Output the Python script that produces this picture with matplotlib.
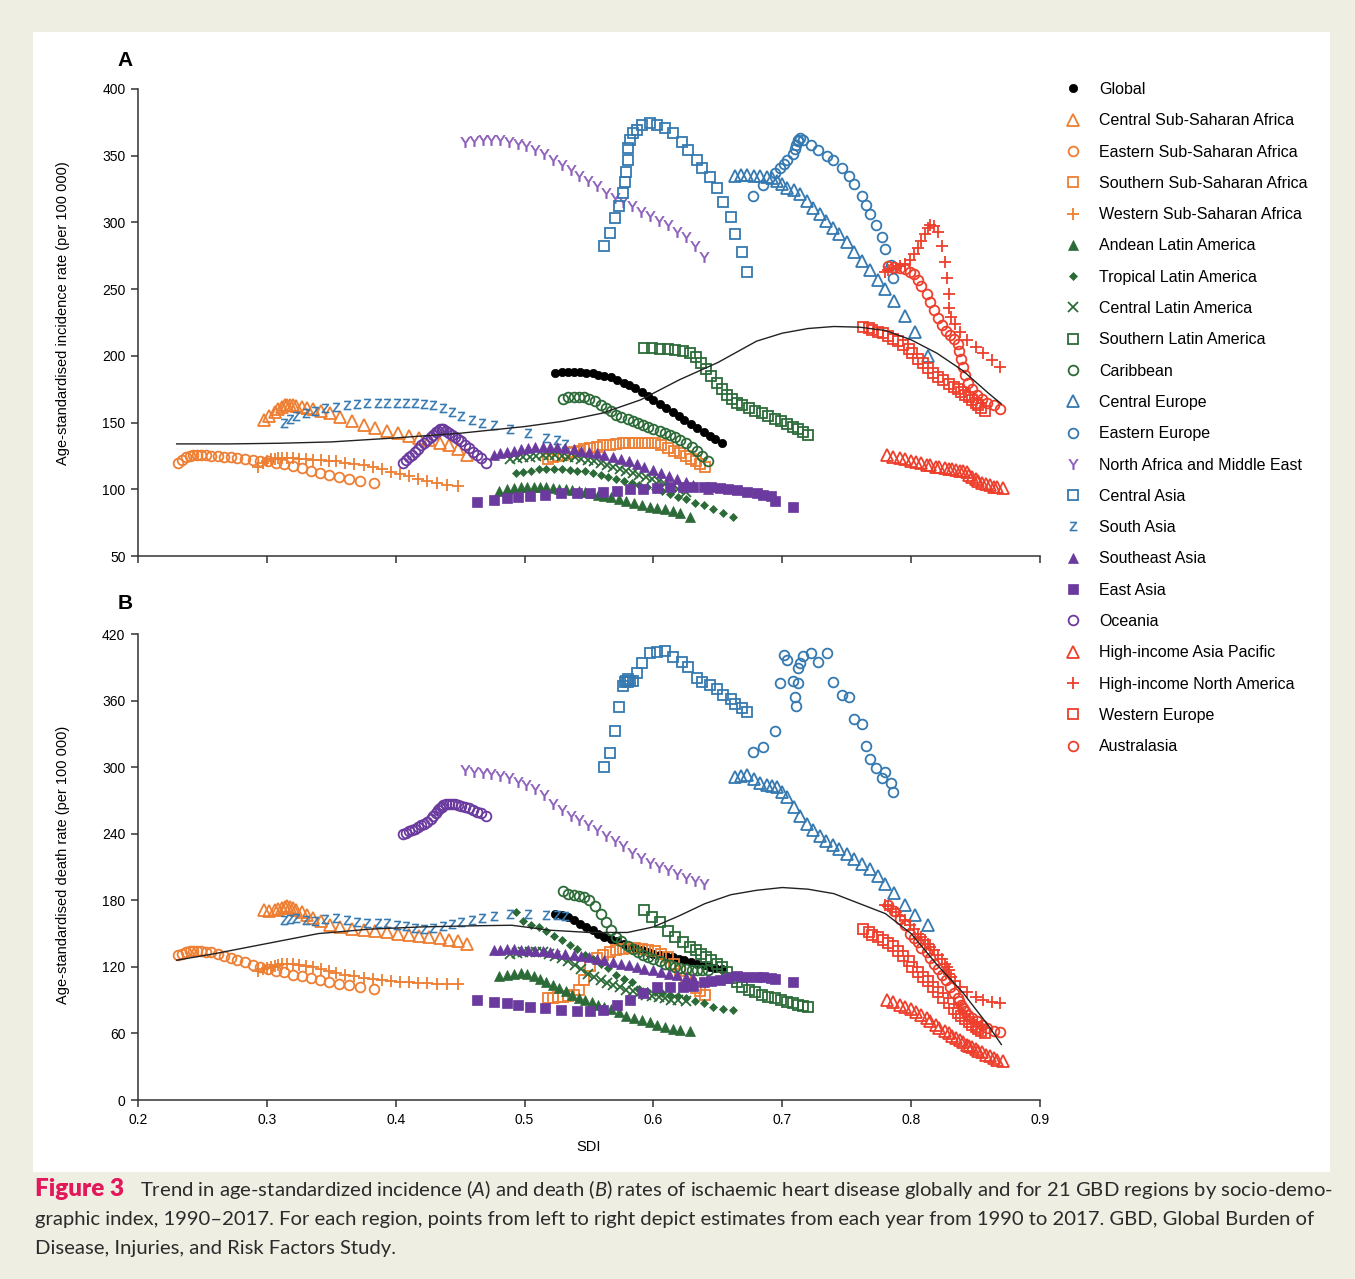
import matplotlib
matplotlib.use("Agg")
import matplotlib.pyplot as plt
from matplotlib.patches import Rectangle

plt.rcParams['font.family'] = ['Liberation Sans', 'DejaVu Sans']
plt.rcParams['mathtext.fontset'] = 'custom'
plt.rcParams['mathtext.it'] = 'Lato:italic'
plt.rcParams['mathtext.rm'] = 'Lato'
plt.rcParams['mathtext.sf'] = 'Liberation Sans'

# ---- data: SDI per year (1990-2017), incidence (A) and death (B) rates ----
regions = ["Global", "Central Sub-Saharan Africa", "Eastern Sub-Saharan Africa",
           "Southern Sub-Saharan Africa", "Western Sub-Saharan Africa",
           "Andean Latin America", "Tropical Latin America", "Central Latin America",
           "Southern Latin America", "Caribbean", "Central Europe", "Eastern Europe",
           "North Africa and Middle East", "Central Asia", "South Asia", "Southeast Asia",
           "East Asia", "Oceania", "High-income Asia Pacific", "High-income North America",
           "Western Europe", "Australasia"]

sdi_global = [0.524, 0.529, 0.534, 0.538, 0.543, 0.548, 0.553, 0.557, 0.562, 0.567, 0.572, 0.577, 0.581, 0.586,
              0.591, 0.596, 0.600, 0.605, 0.610, 0.615, 0.620, 0.624, 0.629, 0.634, 0.639, 0.644, 0.648, 0.653]
inc_global = [187, 188, 188, 188, 188, 187.5, 187, 186, 185, 184, 182, 180, 178, 176,
              173, 170, 167, 164, 161, 158, 155, 152, 149, 146, 143, 140, 138, 135]
dth_global = [168, 167, 165, 162, 159, 156, 153, 150, 147, 145, 143, 141, 139, 137,
              135, 133, 132, 131, 130, 129, 127, 126, 124, 123, 122, 120, 119, 118]

sdi_cssa = [0.298, 0.302, 0.306, 0.309, 0.312, 0.314, 0.316, 0.318, 0.320, 0.323, 0.327, 0.331, 0.336, 0.342,
            0.349, 0.357, 0.366, 0.375, 0.384, 0.393, 0.402, 0.410, 0.418, 0.426, 0.434, 0.441, 0.448, 0.455]
inc_cssa = [152, 155, 158, 160, 162, 163, 163.5, 163.5, 163, 162.5, 162, 161, 160, 158.5,
            157, 154, 151, 148.5, 146, 144, 142, 140, 138.5, 137, 135, 133, 130, 126]
dth_cssa = [171, 170, 171, 172, 173, 174, 175, 174, 173, 171, 169, 167, 164, 161,
            158, 156, 154, 153, 152, 151, 150, 149, 148, 147, 146, 144, 143, 141]

sdi_essa = [0.231, 0.234, 0.237, 0.240, 0.243, 0.246, 0.249, 0.253, 0.257, 0.262, 0.267, 0.272, 0.277, 0.283,
            0.289, 0.295, 0.301, 0.307, 0.313, 0.320, 0.327, 0.334, 0.341, 0.348, 0.356, 0.364, 0.372, 0.383]
inc_essa = [120, 122, 124, 125, 126, 126, 126, 125.5, 125, 125, 124.5, 124, 123.5, 123,
            122, 121.5, 121, 120, 119, 117.5, 116, 114, 112, 110.5, 109, 107.5, 106, 104.5]
dth_essa = [131, 132, 133, 134, 134.5, 134.5, 134, 133.5, 133, 132, 130, 128, 126, 124,
            122, 120, 118, 116.5, 115, 113, 111.5, 110, 108, 106.5, 105, 103.5, 102, 100]

sdi_sssa = [0.518, 0.522, 0.526, 0.530, 0.534, 0.538, 0.542, 0.546, 0.551, 0.556, 0.561, 0.566, 0.571, 0.576,
            0.581, 0.586, 0.591, 0.596, 0.601, 0.606, 0.611, 0.616, 0.621, 0.625, 0.629, 0.633, 0.636, 0.640]
inc_sssa = [123, 124, 125, 126, 127, 128, 129, 130, 131, 132, 133, 133.5, 134, 134.5,
            135, 135, 135, 135, 134.5, 133, 131, 129, 127, 125, 123, 121, 119, 117]
dth_sssa = [92, 92, 93, 93, 94, 95, 99, 108, 121, 128, 131, 133, 135, 136,
            137, 137, 136, 135, 134, 132, 129, 123, 116, 110, 105, 101, 98, 95]

sdi_wssa = [0.293, 0.297, 0.300, 0.303, 0.306, 0.309, 0.312, 0.316, 0.320, 0.325, 0.330, 0.336, 0.342, 0.348,
            0.354, 0.361, 0.368, 0.375, 0.382, 0.389, 0.396, 0.403, 0.410, 0.417, 0.424, 0.432, 0.440, 0.448]
inc_wssa = [117, 120, 121.5, 122.5, 123, 123.5, 123.5, 123.5, 123.5, 123, 122.5, 122, 122, 121.5,
            121, 120, 119, 118, 116.5, 115, 113, 111.5, 110, 108, 106.5, 105, 103.5, 102.5]
dth_wssa = [116, 118, 119, 120, 121, 122, 122.5, 123, 123, 122, 121, 120, 118, 116,
            114.5, 113, 111.5, 110, 109, 108, 107, 106.5, 106, 105.5, 105.5, 105, 105, 105]

sdi_andean = [0.480, 0.486, 0.492, 0.497, 0.502, 0.507, 0.512, 0.517, 0.522, 0.527, 0.532, 0.537, 0.542, 0.547,
              0.552, 0.557, 0.562, 0.567, 0.573, 0.579, 0.585, 0.591, 0.597, 0.603, 0.609, 0.615, 0.621, 0.628]
inc_andean = [99, 100, 101, 101.5, 102, 102, 102, 101.5, 101, 100.5, 100, 99.5, 99, 98,
              97, 96, 95, 94, 92.5, 91, 89.5, 88, 87, 86, 85, 83.5, 82, 79.5]
dth_andean = [112, 113, 114, 114.5, 114, 112, 109, 106, 104, 101, 98, 95, 92, 90,
              88, 86, 84, 82, 79, 76, 74, 72, 70, 68, 66, 64, 63, 62]

sdi_tropical = [0.493, 0.499, 0.505, 0.511, 0.517, 0.523, 0.529, 0.535, 0.541, 0.547, 0.553, 0.559, 0.565, 0.571,
                0.577, 0.583, 0.589, 0.595, 0.601, 0.607, 0.613, 0.619, 0.625, 0.632, 0.639, 0.646, 0.654, 0.662]
inc_tropical = [112, 113, 114, 115, 115.5, 115.5, 115, 114.5, 114, 113.5, 112.5, 111, 109.5, 108,
                106.5, 105, 103.5, 102, 100.5, 98.5, 96.5, 94.5, 92.5, 90, 88, 85.5, 82.5, 79.5]
dth_tropical = [169, 161, 158, 156, 152, 148, 144, 140, 136, 131, 127, 123, 119, 113,
                109, 106, 100, 98.5, 97, 96, 95, 94, 92, 89, 87, 84, 82, 81]

sdi_centla = [0.489, 0.494, 0.499, 0.504, 0.509, 0.514, 0.519, 0.524, 0.529, 0.534, 0.539, 0.544, 0.549, 0.554,
              0.559, 0.564, 0.569, 0.574, 0.579, 0.584, 0.589, 0.594, 0.599, 0.604, 0.609, 0.614, 0.619, 0.625]
inc_centla = [123, 123.5, 124, 124.5, 125, 125.5, 125.5, 125.5, 125, 124.5, 124, 123, 122, 121,
              119.5, 118, 116.5, 115, 113.5, 112, 110.5, 109, 107.5, 106, 104, 102, 100, 98]
dth_centla = [132, 132.5, 133, 133, 133, 133, 132, 130, 128, 125, 122, 118, 114, 111,
              108, 105.5, 103.5, 101.5, 99.5, 98, 96.5, 95, 93.5, 92.5, 91.5, 90.5, 90, 89]

sdi_southla = [0.593, 0.599, 0.605, 0.611, 0.617, 0.623, 0.628, 0.633, 0.637, 0.641, 0.645, 0.649, 0.653, 0.657,
               0.661, 0.665, 0.669, 0.674, 0.679, 0.684, 0.689, 0.694, 0.699, 0.704, 0.708, 0.712, 0.716, 0.720]
inc_southla = [206, 206, 205.5, 205, 204.5, 203.5, 202, 199, 195, 190, 185, 180, 175, 171,
               168, 165, 163, 161, 159, 157, 155, 153, 151, 149, 147, 145, 143, 141]
dth_southla = [171, 165, 160, 152, 147, 142, 138, 135, 132, 129, 126, 123, 120, 115,
               110, 106, 102, 99, 97, 95, 93, 92, 90, 88, 87, 86, 85, 84]

sdi_carib = [0.530, 0.534, 0.538, 0.542, 0.546, 0.550, 0.555, 0.559, 0.563, 0.567, 0.571, 0.575, 0.580, 0.584,
             0.588, 0.592, 0.596, 0.600, 0.605, 0.609, 0.613, 0.617, 0.621, 0.625, 0.630, 0.634, 0.638, 0.642]
inc_carib = [168, 169, 169.5, 169.5, 169, 168, 166, 163.5, 161, 158.5, 156, 154, 152.5, 151,
             149.5, 148, 146.5, 145, 143.5, 142, 140.5, 139, 137, 135, 132, 129, 125, 121]
dth_carib = [188, 186, 185, 184, 183, 180, 175, 168, 160, 153, 147, 143, 139, 136,
             133, 131, 129, 127, 125, 123, 122, 120, 119, 118, 117.5, 117, 117, 117]

sdi_centeur = [0.663, 0.668, 0.673, 0.678, 0.683, 0.688, 0.692, 0.696, 0.700, 0.704, 0.709, 0.714, 0.719, 0.724,
               0.729, 0.734, 0.739, 0.744, 0.750, 0.756, 0.762, 0.768, 0.774, 0.780, 0.787, 0.795, 0.803, 0.813]
inc_centeur = [335, 335.5, 335.5, 335, 334.5, 334, 333, 331, 329, 326, 324, 321, 316, 311,
               306, 301, 296, 291, 285, 278, 271, 264, 257, 250, 241, 230, 218, 200]
dth_centeur = [291, 292, 293, 289, 286, 284, 283, 282, 278, 273, 264, 256, 249, 243,
               238, 233, 230, 226, 222, 217, 213, 208, 202, 195, 187, 176, 167, 158]

sdi_easteur = [0.677, 0.685, 0.694, 0.698, 0.701, 0.704, 0.708, 0.710, 0.711, 0.712, 0.712, 0.714, 0.716, 0.722,
               0.728, 0.735, 0.739, 0.746, 0.752, 0.756, 0.762, 0.765, 0.768, 0.773, 0.777, 0.780, 0.784, 0.786]
inc_easteur = [320, 328, 337, 341, 344, 347, 351, 355, 358, 361, 362, 363, 362, 358,
               354, 350, 347, 341, 335, 329, 320, 313, 306, 298, 289, 280, 268, 258]
dth_easteur = [314, 318, 333, 376, 401, 397, 378, 363, 355, 376, 389, 394, 400, 403,
               395, 403, 377, 365, 363, 343, 339, 319, 307, 299, 290, 296, 286, 278]

sdi_name = [0.454, 0.461, 0.468, 0.474, 0.481, 0.488, 0.495, 0.501, 0.508, 0.515, 0.522, 0.529, 0.536, 0.542,
            0.549, 0.556, 0.563, 0.570, 0.576, 0.583, 0.590, 0.597, 0.604, 0.611, 0.618, 0.625, 0.632, 0.639]
inc_name = [360, 361, 362, 362, 361.5, 360.5, 359, 357, 354.5, 351, 346.5, 343, 339, 335,
            331, 327, 322, 318, 315, 312, 308, 305, 301, 298, 293, 289, 282, 274]
dth_name = [297, 296, 295, 294, 292, 290, 287, 284, 280, 275, 267, 261, 256, 252,
            248, 243, 238, 233, 229, 223, 218, 214, 210, 207, 204, 200, 197, 195]

sdi_centasia = [0.562, 0.566, 0.570, 0.573, 0.576, 0.578, 0.579, 0.580, 0.580, 0.582, 0.584, 0.587, 0.591, 0.597,
                0.603, 0.609, 0.615, 0.622, 0.627, 0.634, 0.638, 0.644, 0.649, 0.654, 0.660, 0.663, 0.669, 0.673]
inc_centasia = [282, 292, 303, 312, 322, 330, 338, 347, 356, 362, 367, 369, 373, 374.5,
                373, 371, 367, 360, 354, 347, 341, 334, 326, 315, 304, 291, 278, 263]
dth_centasia = [300, 313, 333, 354, 373, 377, 378, 379, 377, 378, 378, 385, 394, 403,
                404, 405, 399, 395, 390, 380, 377, 374, 370, 365, 361, 357, 353, 350]

sdi_sasia = [0.313, 0.318, 0.323, 0.330, 0.337, 0.345, 0.354, 0.362, 0.370, 0.378, 0.386, 0.393, 0.401, 0.408,
             0.415, 0.422, 0.429, 0.437, 0.444, 0.451, 0.459, 0.467, 0.476, 0.489, 0.503, 0.517, 0.525, 0.531]
inc_sasia = [150, 153, 155, 157, 159, 161, 162, 163, 164, 164.5, 164.5, 164.5, 164.5, 164.5,
             164.5, 164, 163, 161, 158, 155, 152, 150, 148, 145, 142, 138.5, 137, 134]
dth_sasia = [162, 163, 164, 162, 161, 163, 164, 162, 160, 159.5, 159.5, 159.5, 158, 157,
             155, 154, 155, 157, 159, 160, 162, 164, 166, 168, 168, 167, 167, 166]

sdi_seasia = [0.476, 0.481, 0.486, 0.492, 0.497, 0.503, 0.508, 0.514, 0.520, 0.525, 0.531, 0.538, 0.544, 0.550,
              0.556, 0.562, 0.569, 0.575, 0.581, 0.587, 0.593, 0.600, 0.606, 0.612, 0.618, 0.625, 0.631, 0.642]
inc_seasia = [126, 127, 128, 129, 130, 131, 131.5, 132, 132, 131.5, 131, 130, 129, 128,
              127, 125.5, 124, 122.5, 121, 119, 117, 114.5, 112, 110, 107.5, 105.5, 103.5, 100]
dth_seasia = [135, 135, 136, 136, 135.5, 135, 134.5, 134, 133, 132.5, 132, 131, 130, 129,
              127.5, 126, 124.5, 123, 121.5, 120, 118.5, 117, 115.5, 114, 112.5, 111, 110, 108]

sdi_eastasia = [0.463, 0.476, 0.486, 0.495, 0.504, 0.516, 0.528, 0.541, 0.551, 0.561, 0.572, 0.582, 0.592, 0.603,
                0.613, 0.623, 0.631, 0.639, 0.645, 0.652, 0.658, 0.665, 0.673, 0.680, 0.685, 0.691, 0.694, 0.708]
inc_eastasia = [90.5, 92, 93.5, 94, 95, 96, 97, 97, 97.5, 98, 99, 100, 100.5, 101,
                101.5, 102, 102, 102, 101.5, 101, 100, 99.5, 98, 97, 96, 95, 91, 87]
dth_eastasia = [90, 88, 87, 86, 84, 83, 81, 80, 80, 81, 86, 90, 96, 102,
                102, 102, 103, 106, 107, 108, 110, 112, 111, 111, 111, 110, 109, 106]

sdi_oceania = [0.406, 0.408, 0.410, 0.413, 0.415, 0.417, 0.420, 0.422, 0.424, 0.427, 0.429, 0.431, 0.433, 0.434,
               0.436, 0.437, 0.439, 0.441, 0.444, 0.446, 0.448, 0.451, 0.454, 0.457, 0.460, 0.463, 0.466, 0.470]
inc_oceania = [120, 122, 124, 126, 128, 130, 133, 135, 137, 139, 141, 143, 144, 145,
               145.5, 145, 144, 142.5, 141, 139.5, 138, 136, 133.5, 131, 128, 126, 123.5, 120]
dth_oceania = [240, 241, 242, 243, 244, 246, 248, 249, 251, 253, 256, 259, 261, 263,
               264.5, 265.5, 266.5, 267, 267, 266.5, 266, 265, 264, 263, 261.5, 260, 258.5, 256]

sdi_hiap = [0.781, 0.786, 0.791, 0.795, 0.800, 0.804, 0.808, 0.812, 0.815, 0.819, 0.822, 0.826, 0.829, 0.832,
            0.835, 0.838, 0.840, 0.843, 0.845, 0.847, 0.850, 0.852, 0.855, 0.858, 0.861, 0.864, 0.867, 0.871]
inc_hiap = [125.5, 124.5, 123.5, 122.5, 121.5, 120.5, 119.5, 118.5, 118, 117, 116.5, 116, 115.5, 115,
            114.5, 114, 113.5, 113, 111, 109, 107.5, 106, 105, 104, 103, 102, 101.5, 101]
dth_hiap = [90, 88, 86, 84, 82, 79, 77, 74, 71, 68, 65, 62, 60, 58,
            56, 54, 52, 50, 49, 47.5, 46, 44.5, 43, 41, 39.5, 38, 36.5, 35]

sdi_hina = [0.780, 0.782, 0.785, 0.788, 0.791, 0.795, 0.799, 0.802, 0.805, 0.808, 0.811, 0.813, 0.815, 0.818,
            0.821, 0.824, 0.826, 0.828, 0.829, 0.829, 0.831, 0.834, 0.838, 0.843, 0.850, 0.856, 0.863, 0.869]
inc_hina = [263, 264, 265, 266, 267, 269, 272, 276, 281, 286, 291, 296, 298, 297,
            293, 282, 270, 258, 246, 236, 229, 224, 218, 212, 207, 202, 197, 192]
dth_hina = [176, 175, 172, 169, 166, 162, 158, 154, 150, 147, 144, 141, 138, 135,
            131, 127, 123, 120, 117, 114, 111, 107, 102, 97, 93, 90, 88, 87]

sdi_weur = [0.763, 0.767, 0.770, 0.774, 0.778, 0.782, 0.786, 0.790, 0.794, 0.798, 0.801, 0.805, 0.809, 0.813,
            0.817, 0.821, 0.825, 0.829, 0.833, 0.836, 0.839, 0.842, 0.845, 0.847, 0.850, 0.852, 0.854, 0.857]
inc_weur = [222, 221, 219.5, 218, 217, 215, 213, 211, 208, 205, 202, 198, 195, 191,
            187, 184, 182, 179, 177, 175, 173, 171, 169, 167, 165, 163, 161, 159]
dth_weur = [154, 151, 149, 146.5, 144, 141.5, 138.5, 134.5, 130, 125, 120, 115.5, 111, 107,
            102, 97, 92, 87, 82, 78.5, 75.5, 73, 70.5, 68, 66, 64, 62, 60]

sdi_austral = [0.782, 0.787, 0.791, 0.795, 0.799, 0.802, 0.805, 0.808, 0.812, 0.815, 0.818, 0.821, 0.824, 0.827,
               0.830, 0.833, 0.836, 0.837, 0.839, 0.840, 0.842, 0.844, 0.847, 0.851, 0.855, 0.859, 0.864, 0.869]
inc_austral = [267, 266.5, 266, 265, 263, 261, 257, 252, 246, 240, 234, 228, 223, 219,
               216, 213, 209, 204, 198, 192, 186, 180, 175, 171, 168, 165, 163, 160]
dth_austral = [176, 170, 163, 158, 150, 146, 142, 137, 133, 128, 123, 118, 113, 108,
               102, 96, 92, 89, 86, 83, 80, 77, 74, 71, 68, 65, 62, 61]

# expected value by SDI (black curve)
curve_sdi_a = [0.23, 0.27, 0.31, 0.35, 0.40, 0.45, 0.50, 0.53, 0.56, 0.59, 0.62, 0.65,
               0.68, 0.70, 0.72, 0.74, 0.76, 0.78, 0.80, 0.82, 0.84, 0.86, 0.87]
curve_inc = [134, 134, 134.5, 135.5, 138.5, 142, 147, 151, 157, 167, 182, 195,
             211, 217, 220.5, 222, 221.5, 219, 212, 202, 189, 172, 164]
curve_sdi_b = [0.23, 0.26, 0.30, 0.34, 0.38, 0.42, 0.46, 0.49, 0.52, 0.55, 0.58, 0.60, 0.62,
               0.64, 0.66, 0.68, 0.70, 0.72, 0.74, 0.76, 0.78, 0.80, 0.82, 0.84, 0.86, 0.87]
curve_dth = [126, 132, 141, 150, 154, 156, 157, 157.5, 153, 151, 151, 156, 166,
             177, 185, 189, 191.5, 190, 186, 177, 168, 150, 122, 97, 67, 50]

SDI = [sdi_global, sdi_cssa, sdi_essa, sdi_sssa, sdi_wssa, sdi_andean, sdi_tropical, sdi_centla,
       sdi_southla, sdi_carib, sdi_centeur, sdi_easteur, sdi_name, sdi_centasia, sdi_sasia,
       sdi_seasia, sdi_eastasia, sdi_oceania, sdi_hiap, sdi_hina, sdi_weur, sdi_austral]
INC = [inc_global, inc_cssa, inc_essa, inc_sssa, inc_wssa, inc_andean, inc_tropical, inc_centla,
       inc_southla, inc_carib, inc_centeur, inc_easteur, inc_name, inc_centasia, inc_sasia,
       inc_seasia, inc_eastasia, inc_oceania, inc_hiap, inc_hina, inc_weur, inc_austral]
DTH = [dth_global, dth_cssa, dth_essa, dth_sssa, dth_wssa, dth_andean, dth_tropical, dth_centla,
       dth_southla, dth_carib, dth_centeur, dth_easteur, dth_name, dth_centasia, dth_sasia,
       dth_seasia, dth_eastasia, dth_oceania, dth_hiap, dth_hina, dth_weur, dth_austral]

# ---- styles ----
BLACK, ORANGE, GREEN, BLUE = "#000000", "#EE7E32", "#2C6B38", "#3579B1"
PURPLE, LPURPLE, RED = "#6B3A9E", "#8A5DBA", "#EE3F2C"
Y_MARK, Z_MARK = r"$\mathsf{Y}$", r"$\mathsf{Z}$"
# (marker, colour, filled, size)
STYLES = [("o", BLACK, True, 6),
          ("^", ORANGE, False, 8), ("o", ORANGE, False, 7), ("s", ORANGE, False, 6.5), ("+", ORANGE, True, 9),
          ("^", GREEN, True, 7.5), ("D", GREEN, True, 4.5), ("x", GREEN, True, 6.5),
          ("s", GREEN, False, 6.5), ("o", GREEN, False, 7),
          ("^", BLUE, False, 8), ("o", BLUE, False, 7),
          (Y_MARK, LPURPLE, True, 7.5), ("s", BLUE, False, 6.5), (Z_MARK, BLUE, True, 6.5),
          ("^", PURPLE, True, 7.5), ("s", PURPLE, True, 6.5), ("o", PURPLE, False, 7),
          ("^", RED, False, 8), ("+", RED, True, 9), ("s", RED, False, 6.5), ("o", RED, False, 7)]

W, H = 1355, 1279
fig = plt.figure(figsize=(W / 100, H / 100), dpi=100, facecolor="#EFEEE3")
fig.patches.append(Rectangle((33 / W, 1 - 1172 / H), 1297 / W, 1140 / H, transform=fig.transFigure,
                             facecolor="white", edgecolor="none", zorder=-1))

ax_a = fig.add_axes([138 / W, 1 - 556 / H, 902 / W, 467 / H])
ax_b = fig.add_axes([138 / W, 1 - 1100 / H, 902 / W, 466 / H])


def draw(ax, rates):
    handles = []
    for sdi, vals, (mk, col, filled, ms) in zip(SDI, rates, STYLES):
        if mk.startswith("$"):
            kw = dict(color=col, mew=0.4)
        elif mk in ("+", "x"):
            kw = dict(color=col, mew=1.3)
        elif filled:
            kw = dict(mfc=col, mec=col, mew=0.5)
        else:
            kw = dict(mfc="none", mec=col, mew=1.3)
        h, = ax.plot(sdi, vals, ls="none", marker=mk, ms=ms, **kw)
        handles.append(h)
    return handles


for ax in (ax_a, ax_b):
    ax.set_facecolor("none")
    for side in ("top", "right"):
        ax.spines[side].set_visible(False)
    for side in ("left", "bottom"):
        ax.spines[side].set_color("#333333")
        ax.spines[side].set_linewidth(1.1)
    ax.set_xlim(0.2, 0.9)
    ax.set_xticks([0.2, 0.3, 0.4, 0.5, 0.6, 0.7, 0.8, 0.9])
    ax.tick_params(direction="out", length=5, width=1.1, color="#333333", labelsize=10, pad=4)

handles = draw(ax_a, INC)
ax_a.plot(curve_sdi_a, curve_inc, color="#222222", lw=1.0, zorder=5)
ax_a.set_ylim(50, 400)
ax_a.set_yticks(range(50, 401, 50))
ax_a.tick_params(axis="x", labelbottom=False)
ax_a.set_ylabel("Age-standardised incidence rate (per 100 000)", fontsize=10.5)
ax_a.yaxis.set_label_coords(-0.075, 0.52)

draw(ax_b, DTH)
ax_b.plot(curve_sdi_b, curve_dth, color="#222222", lw=1.0, zorder=5)
ax_b.set_ylim(0, 420)
ax_b.set_yticks(range(0, 421, 60))
ax_b.set_xticklabels(["0.2", "0.3", "0.4", "0.5", "0.6", "0.7", "0.8", "0.9"])
ax_b.set_ylabel("Age-standardised death rate (per 100 000)", fontsize=10.5)
ax_b.yaxis.set_label_coords(-0.075, 0.505)
ax_b.set_xlabel("SDI", fontsize=10.5, labelpad=10)

fig.text(125 / W, 1 - 60 / H, "A", fontsize=15, fontweight="bold", ha="center", va="center")
fig.text(125 / W, 1 - 603 / H, "B", fontsize=15, fontweight="bold", ha="center", va="center")

fig.legend(handles, regions, loc="upper left", bbox_to_anchor=(1065 / W, 1 - 82 / H),
           frameon=False, fontsize=11.5, borderpad=0, borderaxespad=0, handlelength=1.0,
           handletextpad=1.15, labelspacing=1.02)

# caption
cap_col = "#2B2B2B"
cap_size = 14.6
fig.text(35 / W, 1 - 1196 / H, "Figure 3", color="#E2185B", fontsize=17.5, fontweight="heavy",
         family="Lato", va="baseline")
fig.text(140 / W, 1 - 1196 / H,
         "Trend in age-standardized incidence ($A$) and death ($B$) rates of ischaemic heart disease "
         "globally and for 21 GBD regions by socio-demo-",
         color=cap_col, fontsize=cap_size, family="Lato", va="baseline")
fig.text(35 / W, 1 - 1225 / H,
         "graphic index, 1990\u20132017. For each region, points from left to right depict estimates "
         "from each year from 1990 to 2017. GBD, Global Burden of",
         color=cap_col, fontsize=cap_size, family="Lato", va="baseline")
fig.text(35 / W, 1 - 1254 / H, "Disease, Injuries, and Risk Factors Study.",
         color=cap_col, fontsize=cap_size, family="Lato", va="baseline")

fig.savefig("out.png", dpi=100, facecolor=fig.get_facecolor())
